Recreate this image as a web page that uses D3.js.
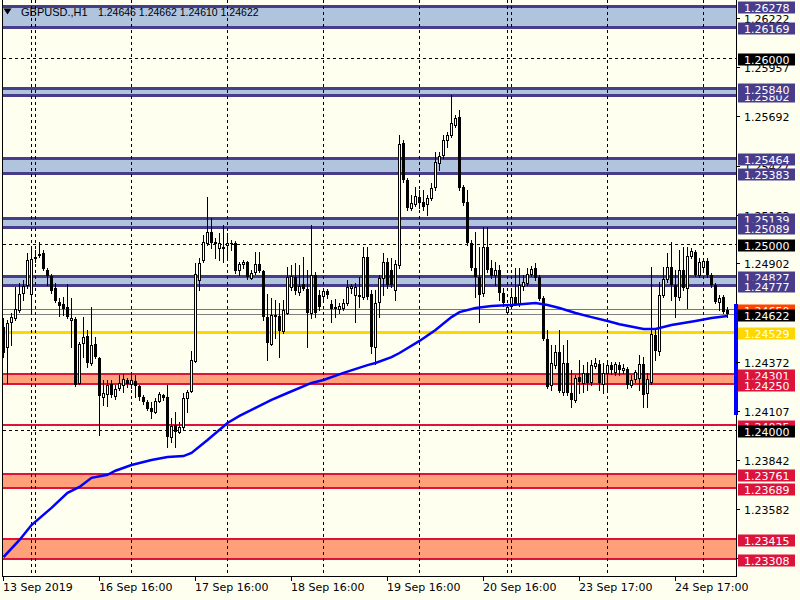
<!DOCTYPE html>
<html><head><meta charset="utf-8">
<script src="https://cdn.jsdelivr.net/npm/d3@7"></script>
<style>body{margin:0;background:#fffff0}svg{display:block}</style>
</head><body><svg id="c" width="800" height="600"></svg>
<script>
const symbolTitle = "GBPUSD.,H1";
const titlePrices = "1.24646 1.24662 1.24610 1.24622";
const opens = [1.24553,1.24446,1.24580,1.24602,1.24645,1.24737,1.24780,1.24731,1.24925,1.24941,1.24952,1.24861,1.24829,1.24764,1.24688,1.24677,1.24661,1.24591,1.24597,1.24253,1.24468,1.24506,1.24360,1.24462,1.24387,1.24177,1.24193,1.24247,1.24183,1.24226,1.24242,1.24269,1.24247,1.24264,1.24237,1.24177,1.24151,1.24119,1.24097,1.24157,1.24188,1.24177,1.23963,1.24027,1.23990,1.24016,1.24172,1.24210,1.24371,1.24807,1.24914,1.25006,1.25065,1.25011,1.24979,1.24984,1.24995,1.25006,1.25006,1.24861,1.24892,1.24903,1.24818,1.24850,1.24892,1.24856,1.24607,1.24462,1.24618,1.24613,1.24533,1.24629,1.24769,1.24823,1.24742,1.24785,1.24759,1.24629,1.24834,1.24726,1.24721,1.24748,1.24677,1.24656,1.24651,1.24656,1.24683,1.24764,1.24726,1.24726,1.24715,1.24930,1.24731,1.24446,1.24688,1.24818,1.24903,1.24861,1.24753,1.24887,1.25543,1.25344,1.25194,1.25215,1.25252,1.25226,1.25215,1.25247,1.25306,1.25435,1.25478,1.25559,1.25586,1.25639,1.25682,1.25306,1.25226,1.25006,1.24871,1.24823,1.24737,1.24984,1.24871,1.24834,1.24861,1.24737,1.24634,1.24667,1.24715,1.24677,1.24775,1.24791,1.24839,1.24871,1.24823,1.24710,1.24490,1.24242,1.24349,1.24419,1.24204,1.24360,1.24199,1.24162,1.24285,1.24253,1.24307,1.24258,1.24344,1.24354,1.24247,1.24307,1.24349,1.24312,1.24349,1.24323,1.24328,1.24242,1.24275,1.24280,1.24354,1.24199,1.24258,1.24511,1.24425,1.24726,1.24813,1.24876,1.24780,1.24715,1.24861,1.24764,1.24936,1.24957,1.24834,1.24876,1.24909,1.24834,1.24780,1.24688,1.24715,1.24646];
const highs = [1.24602,1.24591,1.24629,1.24769,1.24791,1.24807,1.24952,1.24979,1.24968,1.25011,1.24968,1.24871,1.24839,1.24791,1.24710,1.24715,1.24785,1.24710,1.24607,1.24473,1.24607,1.24538,1.24661,1.24500,1.24392,1.24269,1.24269,1.24269,1.24242,1.24296,1.24301,1.24280,1.24301,1.24296,1.24242,1.24188,1.24162,1.24151,1.24172,1.24204,1.24193,1.24242,1.24065,1.24097,1.24043,1.24199,1.24215,1.24425,1.24898,1.24925,1.25049,1.25252,1.25140,1.25033,1.25060,1.25102,1.25060,1.25022,1.25017,1.24903,1.24914,1.24909,1.24861,1.24957,1.24957,1.24861,1.24731,1.24710,1.24699,1.24683,1.24699,1.24876,1.24887,1.24898,1.24887,1.24930,1.24861,1.25102,1.24850,1.24753,1.24764,1.24759,1.24699,1.24705,1.24683,1.24705,1.24807,1.24785,1.24791,1.24823,1.24984,1.24984,1.24753,1.24753,1.24834,1.24952,1.24925,1.24925,1.24914,1.25586,1.25559,1.25355,1.25263,1.25306,1.25290,1.25290,1.25263,1.25328,1.25494,1.25494,1.25586,1.25602,1.25801,1.25693,1.25720,1.25317,1.25290,1.25022,1.25065,1.24984,1.25091,1.25091,1.24914,1.24903,1.24887,1.24764,1.24672,1.24753,1.24871,1.24871,1.24834,1.24871,1.24882,1.24898,1.24834,1.24721,1.24538,1.24457,1.24457,1.24538,1.24457,1.24484,1.24323,1.24296,1.24376,1.24349,1.24365,1.24376,1.24387,1.24376,1.24360,1.24360,1.24365,1.24365,1.24365,1.24354,1.24338,1.24296,1.24323,1.24403,1.24392,1.24307,1.24876,1.24538,1.24796,1.24876,1.24952,1.25011,1.24861,1.24968,1.24984,1.24984,1.24979,1.24968,1.24925,1.24925,1.24925,1.24845,1.24791,1.24726,1.24726,1.24662];
const lows = [1.24392,1.24253,1.24457,1.24591,1.24634,1.24699,1.24764,1.24634,1.24903,1.24930,1.24861,1.24780,1.24737,1.24688,1.24613,1.24618,1.24600,1.24446,1.24237,1.24247,1.24392,1.24338,1.24349,1.24387,1.23974,1.24135,1.24130,1.24177,1.24167,1.24215,1.24204,1.24231,1.24226,1.24177,1.24162,1.24140,1.24108,1.24065,1.24092,1.24151,1.24162,1.23909,1.23936,1.23909,1.23985,1.24001,1.24097,1.24204,1.24365,1.24753,1.24903,1.24995,1.24979,1.24925,1.24914,1.24903,1.24925,1.24968,1.24845,1.24834,1.24871,1.24813,1.24813,1.24839,1.24850,1.24591,1.24376,1.24457,1.24495,1.24392,1.24522,1.24623,1.24753,1.24731,1.24726,1.24753,1.24446,1.24602,1.24607,1.24645,1.24699,1.24710,1.24580,1.24607,1.24629,1.24645,1.24672,1.24737,1.24580,1.24661,1.24705,1.24705,1.24414,1.24354,1.24607,1.24726,1.24764,1.24769,1.24699,1.24871,1.25333,1.25183,1.25183,1.25205,1.25194,1.25183,1.25156,1.25237,1.25290,1.25398,1.25462,1.25521,1.25575,1.25628,1.25290,1.25210,1.24995,1.24861,1.24715,1.24580,1.24721,1.24850,1.24818,1.24780,1.24699,1.24667,1.24629,1.24656,1.24672,1.24667,1.24753,1.24780,1.24829,1.24807,1.24699,1.24484,1.24226,1.24215,1.24333,1.24204,1.24188,1.24188,1.24124,1.24151,1.24199,1.24204,1.24215,1.24242,1.24333,1.24215,1.24199,1.24204,1.24301,1.24296,1.24296,1.24307,1.24226,1.24231,1.24258,1.24215,1.24124,1.24124,1.24247,1.24376,1.24403,1.24715,1.24796,1.24699,1.24607,1.24699,1.24753,1.24656,1.24925,1.24829,1.24823,1.24861,1.24823,1.24769,1.24683,1.24645,1.24629,1.24610];
const closes = [1.24414,1.24575,1.24607,1.24651,1.24731,1.24775,1.24914,1.24920,1.24930,1.24946,1.24866,1.24829,1.24748,1.24694,1.24667,1.24651,1.24607,1.24602,1.24242,1.24462,1.24500,1.24360,1.24457,1.24392,1.24183,1.24199,1.24242,1.24188,1.24221,1.24253,1.24275,1.24247,1.24269,1.24237,1.24177,1.24151,1.24114,1.24097,1.24157,1.24193,1.24172,1.23963,1.24022,1.23990,1.24016,1.24172,1.24204,1.24376,1.24839,1.24898,1.25011,1.25065,1.25006,1.25000,1.25006,1.24973,1.25006,1.25000,1.24856,1.24892,1.24903,1.24823,1.24845,1.24892,1.24856,1.24607,1.24468,1.24618,1.24607,1.24533,1.24645,1.24823,1.24829,1.24748,1.24775,1.24759,1.24629,1.24834,1.24629,1.24661,1.24748,1.24726,1.24651,1.24661,1.24667,1.24683,1.24769,1.24775,1.24769,1.24715,1.24930,1.24715,1.24446,1.24683,1.24818,1.24903,1.24780,1.24780,1.24892,1.25537,1.25344,1.25194,1.25221,1.25258,1.25221,1.25199,1.25247,1.25301,1.25440,1.25473,1.25559,1.25586,1.25650,1.25677,1.25301,1.25221,1.25006,1.24871,1.24823,1.24726,1.24984,1.24861,1.24829,1.24861,1.24737,1.24683,1.24661,1.24715,1.24677,1.24780,1.24796,1.24839,1.24866,1.24818,1.24705,1.24490,1.24231,1.24360,1.24419,1.24210,1.24360,1.24199,1.24162,1.24280,1.24258,1.24307,1.24253,1.24349,1.24360,1.24253,1.24307,1.24349,1.24323,1.24354,1.24323,1.24333,1.24242,1.24269,1.24312,1.24354,1.24188,1.24275,1.24516,1.24425,1.24726,1.24813,1.24876,1.24780,1.24715,1.24861,1.24764,1.24936,1.24963,1.24834,1.24903,1.24909,1.24834,1.24780,1.24688,1.24710,1.24634,1.24622];
const maBars = [0,4,7,12,16,19,22,26,28,32,37,41,45,47,51,56,59,63,67,71,77,80,85,91,93,97,99,104,108,112,114,118,122,127,133,136,139,143,147,151,154,160,163,167,173,177,181];
const maValues = [1.23317,1.23409,1.23489,1.23581,1.23662,1.23694,1.23743,1.23759,1.23781,1.23812,1.23839,1.23855,1.23860,1.23877,1.23946,1.24038,1.24076,1.24119,1.24162,1.24199,1.24253,1.24269,1.24307,1.24349,1.24360,1.24392,1.24414,1.24479,1.24538,1.24607,1.24634,1.24656,1.24667,1.24672,1.24683,1.24672,1.24656,1.24629,1.24607,1.24586,1.24569,1.24543,1.24543,1.24564,1.24586,1.24602,1.24613];
const tickBars = [0,24,48,72,96,120,144,168];
const tickLabels = ["13 Sep 2019","16 Sep 16:00","17 Sep 16:00","18 Sep 16:00","19 Sep 16:00","20 Sep 16:00","23 Sep 17:00","24 Sep 17:00"];
const separatorBars = [7,8,32,56,80,104,126,127,151,175];
const scaleTicks = [1.26222,1.25957,1.25692,1.25427,1.25163,1.24902,1.24637,1.24372,1.24107,1.23842,1.23582,1.23317];
const blueBands = [[1.26278,1.26169],[1.25802,1.25840],[1.25464,1.25383],[1.25139,1.25089],[1.24827,1.24777]];
const redBands = [[1.24301,1.24250],[1.23761,1.23689],[1.23415,1.23308]];
const roundLevels = [1.26000,1.25000,1.24000];
const supportLine = 1.24025;
const goldLevel = 1.24529;
const orangeLevel = 1.24650;
const bidPrice = 1.24622;
const rangeBar = [1.24676, 1.24080];

const L = 3, R = 736, B = 576;
const FONT = "DejaVu Sans, sans-serif";
const x = d3.scaleLinear().domain([0, 181]).range([3.5, 727.5]);
const y = d3.scaleLinear().domain([1.24, 1.26]).range([430, 58]);
const ry = p => Math.round(y(p));

const svg = d3.select("#c");
svg.append("rect").attr("width", 800).attr("height", 600).attr("fill", "#fffff0");
svg.append("defs").append("clipPath").attr("id", "clip")
  .append("rect").attr("x", L).attr("y", 0).attr("width", R - L).attr("height", B);
const g = svg.append("g").attr("clip-path", "url(#clip)");

function hline(p, color, w, dash) {
  const yy = ry(p) + (w % 2 ? 0.5 : 0);
  const l = g.append("line").attr("x1", L).attr("x2", R).attr("y1", yy).attr("y2", yy)
    .attr("stroke", color).attr("stroke-width", w);
  if (dash) l.attr("stroke-dasharray", dash);
}
blueBands.forEach(([a, b]) => {
  const t = Math.min(ry(a), ry(b)), bt = Math.max(ry(a), ry(b));
  g.append("rect").attr("x", L).attr("width", R - L).attr("y", t).attr("height", bt - t).attr("fill", "#b0c4de");
});
redBands.forEach(([a, b]) => {
  const t = Math.min(ry(a), ry(b)), bt = Math.max(ry(a), ry(b));
  g.append("rect").attr("x", L).attr("width", R - L).attr("y", t).attr("height", bt - t).attr("fill", "#ffa07a");
});
blueBands.forEach(([a, b]) => { hline(a, "#483d8b", 3); hline(b, "#483d8b", 3); });
redBands.forEach(([a, b]) => { hline(a, "#dc143c", 2); hline(b, "#dc143c", 2); });
hline(supportLine, "#dc143c", 2);
roundLevels.forEach(p => hline(p, "#000", 1, "3,3"));
hline(goldLevel, "#ffd700", 3);
hline(orangeLevel, "#ff4500", 1);
hline(bidPrice, "#808080", 1);

// period separators
separatorBars.forEach(i => {
  g.append("line").attr("x1", x(i)).attr("x2", x(i)).attr("y1", 0).attr("y2", B)
    .attr("stroke", "#000").attr("stroke-width", 1).attr("stroke-dasharray", "3,3");
});

// candles
const idx = d3.range(opens.length);
idx.forEach(i => {
  const cx = x(i);
  const o = ry(opens[i]), c = ry(closes[i]), h = ry(highs[i]), lo = ry(lows[i]);
  g.append("line").attr("x1", cx).attr("x2", cx).attr("y1", h).attr("y2", lo + 1)
    .attr("stroke", "#000").attr("stroke-width", 1);
  const top = Math.min(o, c), bot = Math.max(o, c);
  if (closes[i] >= opens[i]) {
    g.append("rect").attr("x", cx - 1).attr("y", top + 0.5).attr("width", 2).attr("height", Math.max(bot - top, 0))
      .attr("fill", "#fff").attr("stroke", "#000").attr("stroke-width", 1);
  } else {
    g.append("rect").attr("x", cx - 1.5).attr("y", top).attr("width", 3).attr("height", Math.max(bot - top, 1))
      .attr("fill", "#000");
  }
});

// moving average
g.append("path").datum(maBars.map((b, k) => [b, maValues[k]]))
  .attr("d", d3.line().x(d => x(d[0])).y(d => y(d[1])))
  .attr("fill", "none").attr("stroke", "#0000ff").attr("stroke-width", 2.5);

// frame
svg.append("line").attr("x1", 2.5).attr("x2", 2.5).attr("y1", 0).attr("y2", B).attr("stroke", "#000");
svg.append("line").attr("x1", R + 0.5).attr("x2", R + 0.5).attr("y1", 0).attr("y2", B + 0.5).attr("stroke", "#000");
svg.append("line").attr("x1", 2).attr("x2", R + 1).attr("y1", B + 0.5).attr("y2", B + 0.5).attr("stroke", "#000");

// range bar on the price axis
svg.append("rect").attr("x", 734).attr("width", 4).attr("y", ry(rangeBar[0])).attr("height", ry(rangeBar[1]) - ry(rangeBar[0]))
  .attr("fill", "#0000ff");

// time axis
tickBars.forEach((b, k) => {
  const tx = Math.floor(x(b)) + 0.5;
  svg.append("line").attr("x1", tx).attr("x2", tx).attr("y1", B).attr("y2", B + 5).attr("stroke", "#000");
  svg.append("text").attr("x", tx - 0.5).attr("y", 591).attr("font-family", FONT).attr("font-size", 11)
    .attr("fill", "#000").text(tickLabels[k]);
});

// price scale labels
const fmt = d3.format(".5f");
scaleTicks.forEach(p => {
  const yy = ry(p) + 1;
  svg.append("line").attr("x1", R).attr("x2", R + 4).attr("y1", yy + 0.5).attr("y2", yy + 0.5).attr("stroke", "#000");
  svg.append("text").attr("x", 744).attr("y", yy + 5).attr("font-family", FONT).attr("font-size", 11)
    .attr("fill", "#000").text(fmt(p));
});
function tag(p, bg, fg) {
  const yy = ry(p) + 1.5;
  svg.append("rect").attr("x", 738).attr("y", yy - 6).attr("width", 57).attr("height", 12).attr("fill", bg);
  svg.append("text").attr("x", 744).attr("y", yy + 4.5).attr("font-family", FONT).attr("font-size", 11)
    .attr("fill", fg).text(fmt(p));
}
blueBands.forEach(([a, b]) => { tag(a, "#483d8b", "#fff"); tag(b, "#483d8b", "#fff"); });
redBands.forEach(([a, b]) => { tag(a, "#dc143c", "#fff"); tag(b, "#dc143c", "#fff"); });
tag(goldLevel, "#ffd700", "#fff");
tag(orangeLevel, "#ff4500", "#fff");
tag(supportLine, "#dc143c", "#fff");
roundLevels.forEach(p => tag(p, "#000", "#fff"));
tag(bidPrice, "#000", "#fff");

// title
svg.append("path").attr("d", "M3.5,8.5 L11.5,8.5 L7.5,14.5 Z").attr("fill", "#000");
svg.append("text").attr("x", 21).attr("y", 16).attr("font-family", "Liberation Sans, Arial, sans-serif")
  .attr("font-size", 11).attr("fill", "#000").text(symbolTitle);
svg.append("text").attr("x", 98).attr("y", 16).attr("font-family", "Liberation Sans, Arial, sans-serif")
  .attr("font-size", 10.5).attr("fill", "#000").text(titlePrices);
</script></body></html>
